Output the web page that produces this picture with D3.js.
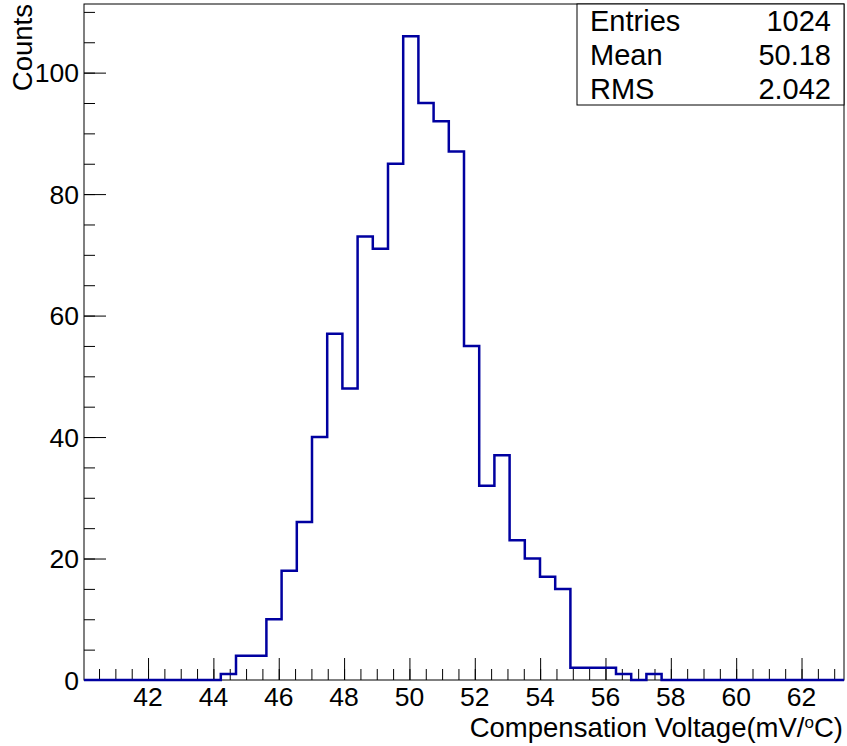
<!DOCTYPE html>
<html>
<head>
<meta charset="utf-8">
<script src="https://cdn.jsdelivr.net/npm/d3@7"></script>
<style>
  html, body { margin: 0; padding: 0; background: #fff; }
  svg { display: block; font-family: "Liberation Sans", Arial, Helvetica, sans-serif; }
</style>
</head>
<body>
<svg id="chart" width="847" height="746"></svg>
<script>
// Histogram binning: 50 equal bins over the axis range
const xMin = 40.04;
const xMax = 63.30;
const nBins = 50;

// Bin contents, bin 0 .. bin 49
const binCounts = [
  0, 0, 0, 0, 0, 0, 0, 0, 0,
  1, 4, 4, 10, 18, 26, 40, 57, 48, 73,
  71, 85, 106, 95, 92, 87, 55, 32, 37, 23,
  20, 17, 15, 2, 2, 2, 1, 0, 1,
  0, 0, 0, 0, 0, 0, 0, 0, 0, 0, 0, 0
];

// Axis ticks
const xMajorTicks = [42, 44, 46, 48, 50, 52, 54, 56, 58, 60, 62];
const yMajorTicks = [0, 20, 40, 60, 80, 100];

// Statistics panel
const statNames = ["Entries", "Mean", "RMS"];
const statValues = ["1024", "50.18", "2.042"];

const xTitle = "Compensation Voltage(mV/";
const xTitleSup = "o";
const xTitleTail = "C)";
const yTitle = "Counts";

const yMax = 1.05 * d3.max(binCounts);

const frame = { left: 84, right: 844, top: 4, bottom: 680 };
const labelSize = 26.5;
const titleSize = 27.5;
const statSize = 29;
const svg = d3.select("#chart");

const x = d3.scaleLinear().domain([xMin, xMax]).range([frame.left, frame.right]);
const y = d3.scaleLinear().domain([0, yMax]).range([frame.bottom, frame.top]);

const binWidth = (xMax - xMin) / nBins;
const edges = d3.range(nBins + 1).map(i => xMin + i * binWidth);

// Step outline of the histogram
let path = d3.path();
path.moveTo(x(edges[0]), y(binCounts[0]));
for (let i = 0; i < nBins; i++) {
  if (i > 0) path.lineTo(x(edges[i]), y(binCounts[i]));
  path.lineTo(x(edges[i + 1]), y(binCounts[i]));
}

// Frame
svg.append("rect")
  .attr("x", frame.left).attr("y", frame.top)
  .attr("width", frame.right - frame.left)
  .attr("height", frame.bottom - frame.top)
  .attr("fill", "none").attr("stroke", "#000").attr("stroke-width", 1);

// X axis: minor ticks every 0.5, major every 2
const xMinor = d3.range(Math.ceil(xMin * 2) / 2, xMax + 1e-9, 0.5);
const xAxisMinor = d3.axisTop(x).tickValues(xMinor).tickSize(11).tickFormat("");
const xAxisMajor = d3.axisTop(x).tickValues(xMajorTicks).tickSize(22).tickFormat("");
[xAxisMinor, xAxisMajor].forEach(ax => {
  const g = svg.append("g").attr("transform", `translate(0,${frame.bottom})`).call(ax);
  g.select(".domain").remove();
  g.selectAll("line").attr("stroke", "#000").attr("stroke-width", 1);
});
svg.append("g").selectAll("text").data(xMajorTicks).join("text")
  .attr("x", d => x(d)).attr("y", 706)
  .attr("text-anchor", "middle")
  .attr("font-size", labelSize)
  .text(d => d);

// Y axis: minor ticks every 5, major every 20
const yMinor = d3.range(0, yMax, 5);
const yAxisMinor = d3.axisRight(y).tickValues(yMinor).tickSize(11).tickFormat("");
const yAxisMajor = d3.axisRight(y).tickValues(yMajorTicks).tickSize(22).tickFormat("");
[yAxisMinor, yAxisMajor].forEach(ax => {
  const g = svg.append("g").attr("transform", `translate(${frame.left},0)`).call(ax);
  g.select(".domain").remove();
  g.selectAll("line").attr("stroke", "#000").attr("stroke-width", 1);
});
svg.append("g").selectAll("text").data(yMajorTicks).join("text")
  .attr("x", 79).attr("y", d => y(d) + 9.5)
  .attr("text-anchor", "end")
  .attr("font-size", labelSize)
  .text(d => d);

// Histogram outline
svg.append("path")
  .attr("d", path.toString())
  .attr("fill", "none")
  .attr("stroke", "#0000a0")
  .attr("stroke-width", 2.5)
  .attr("stroke-linejoin", "miter");

// Axis titles
const xt = svg.append("text")
  .attr("x", 843).attr("y", 737)
  .attr("text-anchor", "end")
  .attr("font-size", titleSize);
xt.append("tspan").text(xTitle);
xt.append("tspan").attr("dy", -9.5).attr("font-size", 17).text(xTitleSup);
xt.append("tspan").attr("dy", 9.5).text(xTitleTail);

svg.append("text")
  .attr("transform", "translate(32,4) rotate(-90)")
  .attr("text-anchor", "end")
  .attr("font-size", titleSize)
  .text(yTitle);

// Statistics box
const box = { x0: 577, x1: 844, y0: 4, y1: 105 };
svg.append("rect")
  .attr("x", box.x0).attr("y", box.y0)
  .attr("width", box.x1 - box.x0).attr("height", box.y1 - box.y0)
  .attr("fill", "#fff").attr("stroke", "#000").attr("stroke-width", 1);
const rowH = (box.y1 - box.y0) / statNames.length;
const rows = svg.append("g").selectAll("g").data(statNames).join("g")
  .attr("transform", (d, i) => `translate(0,${box.y0 + rowH * (i + 0.5) + 10.5})`);
rows.append("text").attr("x", 590).attr("font-size", statSize).text(d => d);
rows.append("text").attr("x", 831).attr("text-anchor", "end").attr("font-size", statSize)
  .text((d, i) => statValues[i]);
</script>
</body>
</html>
